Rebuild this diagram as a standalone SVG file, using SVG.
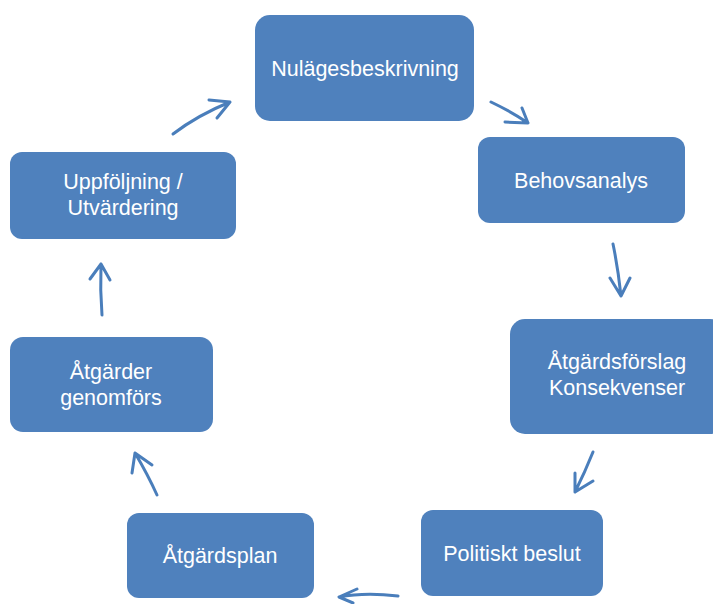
<svg xmlns="http://www.w3.org/2000/svg" width="713" height="604" viewBox="0 0 713 604">
<style>
.box{fill:#4F81BD;}
.t{font-family:"Liberation Sans",Arial,sans-serif;font-size:21.5px;fill:#ffffff;text-anchor:middle;}
.a{fill:none;stroke:#4A7EBB;stroke-width:3;stroke-linecap:round;stroke-linejoin:round;}
</style>
<rect width="713" height="604" fill="#ffffff"/>
<g id="n1"><rect class="box" x="255" y="15" width="219" height="106" rx="15"/><text class="t" x="365" y="76">Nulägesbeskrivning</text></g>
<g id="n2"><rect class="box" x="478" y="137" width="207" height="86" rx="12"/><text class="t" x="581" y="188">Behovsanalys</text></g>
<g id="n3"><rect class="box" x="510" y="319" width="215" height="115" rx="15"/><text class="t" x="617" y="369">Åtgärdsförslag</text><text class="t" x="617" y="395">Konsekvenser</text></g>
<g id="n4"><rect class="box" x="421" y="510" width="182" height="86" rx="12"/><text class="t" x="512" y="561">Politiskt beslut</text></g>
<g id="n5"><rect class="box" x="127" y="513" width="187" height="85" rx="12"/><text class="t" x="220" y="563">Åtgärdsplan</text></g>
<g id="n6"><rect class="box" x="10" y="337" width="203" height="95" rx="13"/><text class="t" x="111" y="379">Åtgärder</text><text class="t" x="111" y="405">genomförs</text></g>
<g id="n7"><rect class="box" x="10" y="152" width="226" height="87" rx="12"/><text class="t" x="123" y="189">Uppföljning /</text><text class="t" x="123" y="215">Utvärdering</text></g>
<g id="connectors">
<path class="a" d="M173,134 Q198,115 230,102 M209,100 L230,102 L217,118"/>
<path class="a" d="M491,102 Q512,112 528,123 M505,122 L528,123 L522,108"/>
<path class="a" d="M613,244 Q618,268 621,296 M610,278 L621,296 L630,278"/>
<path class="a" d="M593,452 Q585,472 575,492 M575,473 L575,492 L593,481"/>
<path class="a" d="M398,596 Q365,592 339,597 M357,589 L339,597 L353,603"/>
<path class="a" d="M157,495 Q148,475 135,453 M132,473 L135,453 L152,465"/>
<path class="a" d="M102,315 Q100,290 101,264 M90,279 L101,264 L110,280"/>
</g>
</svg>
